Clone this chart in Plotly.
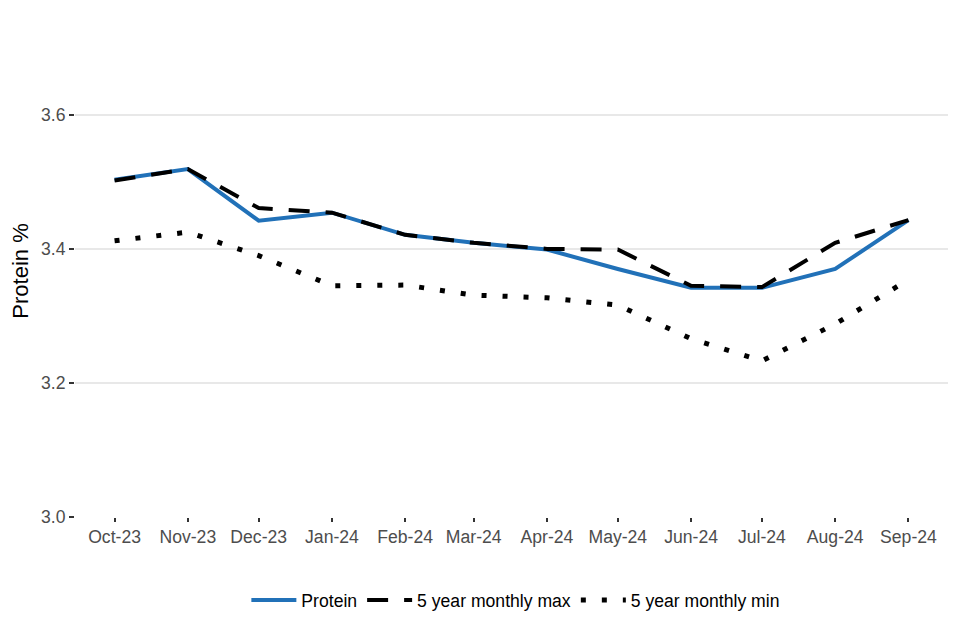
import plotly.graph_objects as go

months = ["2023-10-01", "2023-11-01", "2023-12-01", "2024-01-01", "2024-02-01", "2024-03-01",
          "2024-04-01", "2024-05-01", "2024-06-01", "2024-07-01", "2024-08-01", "2024-09-01"]
protein = [3.503, 3.519, 3.442, 3.454, 3.421, 3.409, 3.399, 3.370, 3.342, 3.342, 3.370, 3.443]
max5 = [3.502, 3.519, 3.461, 3.454, 3.421, 3.409, 3.400, 3.399, 3.345, 3.343, 3.409, 3.443]
min5 = [3.412, 3.425, 3.390, 3.345, 3.346, 3.331, 3.327, 3.316, 3.266, 3.233, 3.288, 3.354]
y_ticks = [3.0, 3.2, 3.4, 3.6]

fig = go.Figure()
fig.add_trace(go.Scatter(x=months, y=protein, mode="lines", name="Protein",
                         line=dict(color="#2171B8", width=4)))
fig.add_trace(go.Scatter(x=months, y=max5, mode="lines", name="5 year monthly max",
                         line=dict(color="black", width=4, dash="21px,16px")))
fig.add_trace(go.Scatter(x=months, y=min5, mode="lines", name="5 year monthly min",
                         line=dict(color="black", width=5, dash="5px,16px")))

fig.update_layout(
    width=960, height=640,
    paper_bgcolor="white", plot_bgcolor="white",
    margin=dict(l=67, r=20, t=17, b=131),
    font=dict(family="Liberation Sans, Arial, sans-serif", color="#4d4d4d", size=17.6),
    showlegend=True,
    legend=dict(orientation="h", x=0.505, xanchor="center", y=-0.169, yanchor="middle",
                font=dict(size=17.6, color="black"), traceorder="normal", itemwidth=45),
    xaxis=dict(type="date", range=["2023-09-14 06:00", "2024-09-17 18:00"],
               tickvals=months, tickformat="%b-%y", showgrid=False, zeroline=False,
               showline=False, ticks="outside", ticklen=4, tickcolor="#333333", tickwidth=1.5,
               tickfont=dict(size=17.6, color="#4d4d4d")),
    yaxis=dict(range=[3.0, 3.734], tickvals=y_ticks, tickformat=".1f", showgrid=True,
               gridcolor="#e8e8e8", gridwidth=2, zeroline=False, showline=False,
               ticks="outside", ticklen=5, tickcolor="#333333", tickwidth=1.5,
               tickfont=dict(size=17.6, color="#4d4d4d"),
               title=dict(text="Protein %", font=dict(size=22, color="black"), standoff=6)),
)

fig.write_html("out.html")
